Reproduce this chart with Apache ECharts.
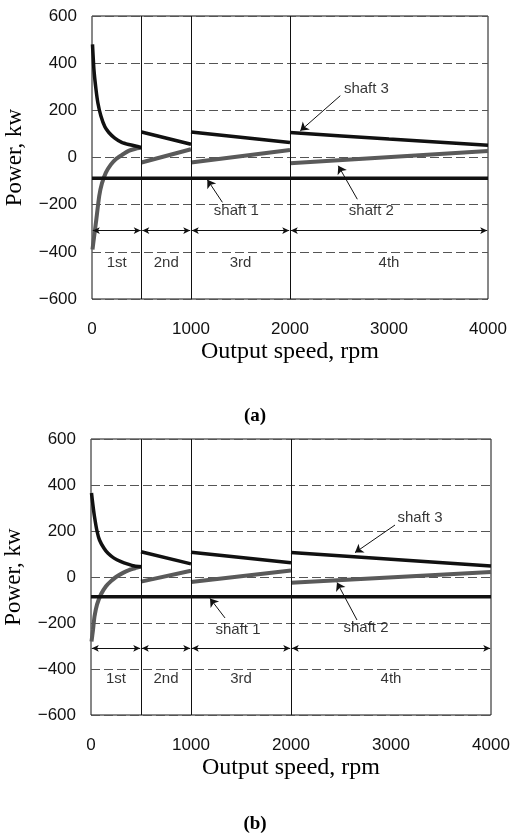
<!DOCTYPE html>
<html>
<head>
<meta charset="utf-8">
<script src="https://cdn.jsdelivr.net/npm/echarts@6/dist/echarts.min.js"></script>
<style>
  html, body { margin: 0; padding: 0; background: #fff; }
  #chart { width: 510px; height: 838px; }
</style>
</head>
<body>
<div id="chart"></div>
<script>
// gear shift points, rpm
var gearBounds = [500, 1000, 2000];
var gearSpans = [[0, 500], [500, 1000], [1000, 2000], [2000, 4000]];
var gearNames = ['1st', '2nd', '3rd', '4th'];
var gearMid = [250, 750, 1500, 3000];
var yTicks = [-600, -400, -200, 0, 200, 400, 600];
var xTicks = [0, 1000, 2000, 3000, 4000];

// (a) shaft 3, per gear: [speed, power]
var shaft3A = [
  [[5, 480], [20, 370], [40, 290], [60, 230], [90, 176], [130, 130], [170, 106], [230, 82], [300, 64], [370, 55], [440, 49], [500, 42]],
  [[500, 108], [1000, 56]],
  [[1000, 108], [2000, 64]],
  [[2000, 106], [3000, 78], [4000, 52]]
];
// (a) shaft 2
var shaft2A = [
  [[5, -390], [20, -340], [40, -275], [73, -163], [100, -110], [140, -64], [190, -30], [240, -7], [300, 10], [370, 28], [430, 36], [500, 42]],
  [[500, -21], [1000, 35]],
  [[1000, -21], [2000, 32]],
  [[2000, -24], [4000, 28]]
];
var shaft1A = -88;

// (b) shaft 3
var shaft3B = [
  [[5, 365], [20, 310], [35, 262], [60, 200], [85, 161], [130, 125], [170, 103], [230, 82], [300, 67], [370, 56], [435, 48], [500, 45]],
  [[500, 110], [1000, 57]],
  [[1000, 108], [2000, 62]],
  [[2000, 107], [4000, 48]]
];
// (b) shaft 2
var shaft2B = [
  [[5, -280], [20, -230], [35, -172], [60, -120], [100, -75], [150, -40], [200, -18], [250, 0], [320, 18], [380, 30], [440, 38], [500, 45]],
  [[500, -20], [1000, 27]],
  [[1000, -22], [2000, 28]],
  [[2000, -25], [4000, 22]]
];
var shaft1B = -86;

var dimLevel = -310;   // gear range arrows
var gearLabelLevel = -445;

// annotation text + leader (from, to) in data coords
var notesA = [
  { text: 'shaft 3', at: [2772, 289], from: [2508, 262], to: [2104, 113] },
  { text: 'shaft 1', at: [1458, -227], from: [1317, -190], to: [1165, -94] },
  { text: 'shaft 2', at: [2822, -227], from: [2680, -177], to: [2488, -35] }
];
var notesB = [
  { text: 'shaft 3', at: [3290, 257], from: [3040, 226], to: [2640, 106] },
  { text: 'shaft 1', at: [1470, -230], from: [1340, -178], to: [1190, -93] },
  { text: 'shaft 2', at: [2750, -222], from: [2660, -187], to: [2460, -24] }
];

function joinGears(segs) {
  var out = [];
  segs.forEach(function (s, i) {
    if (i > 0) out.push([s[0][0], '-']);
    s.forEach(function (p) { out.push(p); });
  });
  return out;
}

var sans = 'Liberation Sans, Arial, sans-serif';
var serif = 'Liberation Serif, Times New Roman, serif';

function makeSeries(idx, s3, s2, s1, notes) {
  var list = [];
  list.push({
    type: 'line', xAxisIndex: idx, yAxisIndex: idx, data: joinGears(s3),
    showSymbol: false, smooth: 0.2, connectNulls: false,
    lineStyle: { color: '#111', width: 3.5 }, z: 5
  });
  list.push({
    type: 'line', xAxisIndex: idx, yAxisIndex: idx, data: joinGears(s2),
    showSymbol: false, smooth: 0.2, connectNulls: false,
    lineStyle: { color: '#5a5a5a', width: 4 }, z: 4
  });
  list.push({
    type: 'line', xAxisIndex: idx, yAxisIndex: idx,
    data: [[0, s1], [4000, s1]],
    showSymbol: false, lineStyle: { color: '#111', width: 3.5 }, z: 5
  });
  // gear boundaries
  list.push({
    type: 'line', xAxisIndex: idx, yAxisIndex: idx, data: [],
    markLine: {
      silent: true, symbol: 'none', label: { show: false },
      lineStyle: { color: '#111', width: 1, type: 'solid' },
      data: gearBounds.map(function (b) { return { xAxis: b }; })
    }
  });
  // gear range arrows
  list.push({
    type: 'line', xAxisIndex: idx, yAxisIndex: idx, data: [],
    markLine: {
      silent: true, symbol: ['arrow', 'arrow'], symbolSize: [5, 7],
      label: { show: false },
      lineStyle: { color: '#111', width: 1, type: 'solid' },
      data: gearSpans.map(function (g) {
        return [{ coord: [g[0] + 8, dimLevel] }, { coord: [g[1] - 8, dimLevel] }];
      })
    }
  });
  // leaders
  list.push({
    type: 'line', xAxisIndex: idx, yAxisIndex: idx, data: [],
    markLine: {
      silent: true, symbol: ['none', 'arrow'], symbolSize: 8,
      label: { show: false },
      lineStyle: { color: '#111', width: 1, type: 'solid' },
      data: notes.map(function (n) {
        return [{ coord: n.from }, { coord: n.to }];
      })
    }
  });
  // text labels
  var txt = gearNames.map(function (g, i) {
    return { name: g, value: [gearMid[i], gearLabelLevel] };
  }).concat(notes.map(function (n) {
    return { name: n.text, value: n.at };
  }));
  list.push({
    type: 'scatter', xAxisIndex: idx, yAxisIndex: idx, symbolSize: 0,
    data: txt, silent: true,
    label: {
      show: true, position: 'inside', formatter: '{b}',
      color: '#000', fontFamily: sans, fontSize: 15
    }
  });
  return list;
}

function xAxisOf(idx) {
  return {
    type: 'value', gridIndex: idx, min: 0, max: 4000, interval: 1000,
    name: 'Output speed, rpm', nameLocation: 'middle', nameGap: 41,
    nameTextStyle: { fontFamily: serif, fontSize: 24, color: '#000' },
    axisLine: { show: false },
    axisTick: { show: false },
    splitLine: { show: false },
    axisLabel: {
      margin: 22, fontFamily: sans, fontSize: 17, color: '#111',
      formatter: function (v) { return String(v); }
    }
  };
}

function yAxisOf(idx) {
  return {
    type: 'value', gridIndex: idx, min: -600, max: 600, interval: 200,
    name: 'Power, kw', nameLocation: 'middle', nameGap: 66, nameRotate: 90,
    nameTextStyle: { fontFamily: serif, fontSize: 23, color: '#000' },
    axisLine: { show: false },
    axisTick: { show: false },
    splitLine: { show: true, lineStyle: { color: '#555', width: 1, type: [9, 4] } },
    axisLabel: {
      margin: 15, fontFamily: sans, fontSize: 17, color: '#111',
      formatter: function (v) { return String(v).replace('-', '\u2212'); }
    }
  };
}

var chart = echarts.init(document.getElementById('chart'), null, { renderer: 'canvas' });
chart.setOption({
  animation: false,
  backgroundColor: '#fff',
  title: [
    { text: '(a)', left: 'center', top: 402, textStyle: { fontFamily: serif, fontWeight: 'bold', fontSize: 19, color: '#000' } },
    { text: '(b)', left: 'center', top: 810, textStyle: { fontFamily: serif, fontWeight: 'bold', fontSize: 19, color: '#000' } }
  ],
  grid: [
    { left: 92, right: 22, top: 16, height: 283, show: true, borderColor: '#111', borderWidth: 1, outerBoundsMode: 'none' },
    { left: 91, right: 19, top: 439, height: 276, show: true, borderColor: '#111', borderWidth: 1, outerBoundsMode: 'none' }
  ],
  xAxis: [xAxisOf(0), xAxisOf(1)],
  yAxis: [yAxisOf(0), yAxisOf(1)],
  series: makeSeries(0, shaft3A, shaft2A, shaft1A, notesA)
    .concat(makeSeries(1, shaft3B, shaft2B, shaft1B, notesB))
});
</script>
</body>
</html>
